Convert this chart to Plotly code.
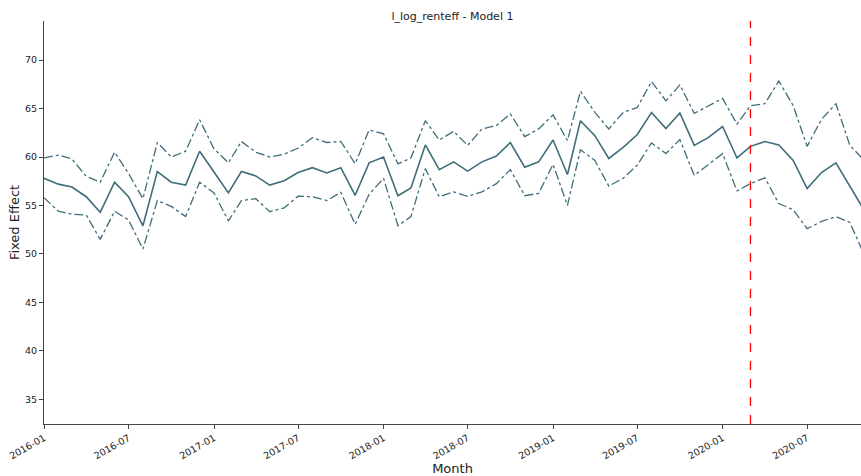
import plotly.graph_objects as go

months = [f"{2016 + (i // 12)}-{(i % 12) + 1:02d}-01" for i in range(59)]

effect = [57.8, 57.2, 56.9, 55.9, 54.3, 57.4, 55.9, 52.9, 58.5, 57.4,
          57.1, 60.6, 58.45, 56.3, 58.5, 58.05, 57.1, 57.55, 58.4, 58.9,
          58.35, 58.9, 56.05, 59.4, 60.0, 56.0, 56.8, 61.25, 58.7, 59.5,
          58.55, 59.5, 60.1, 61.5, 58.95, 59.5, 61.75, 58.2, 63.75, 62.2,
          59.85, 61.0, 62.3, 64.6, 62.95, 64.55, 61.2, 62.0, 63.15, 59.9,
          61.1, 61.6, 61.25, 59.65, 56.75, 58.4, 59.4, 57.0, 54.5]

upper = [59.9, 60.2, 59.8, 58.0, 57.4, 60.5, 58.3, 55.7, 61.5, 60.0,
         60.6, 63.85, 60.85, 59.4, 61.6, 60.5, 60.0, 60.3, 60.9, 62.0,
         61.5, 61.6, 59.3, 62.8, 62.4, 59.3, 59.9, 63.75, 61.75, 62.65,
         61.2, 62.9, 63.25, 64.45, 62.1, 62.9, 64.35, 61.7, 66.8, 64.6,
         62.9, 64.6, 65.1, 67.8, 65.8, 67.45, 64.5, 65.25, 66.05, 63.4,
         65.3, 65.5, 67.85, 65.3, 61.1, 63.9, 65.5, 61.2, 59.65]

lower = [55.8, 54.4, 54.1, 54.0, 51.5, 54.4, 53.5, 50.5, 55.5, 54.9,
         53.85, 57.4, 56.3, 53.4, 55.5, 55.7, 54.35, 54.75, 55.95, 55.9,
         55.5, 56.35, 53.05, 56.15, 57.8, 52.9, 53.85, 58.8, 55.9, 56.4,
         55.95, 56.4, 57.25, 58.7, 56.0, 56.25, 59.25, 55.0, 60.75, 59.65,
         57.0, 57.8, 59.15, 61.45, 60.35, 61.8, 58.1, 59.2, 60.35, 56.5,
         57.25, 57.85, 55.2, 54.55, 52.6, 53.35, 53.85, 53.25, 49.9]

event_date = "2020-03-01"

x_tick_vals = ["2016-01-01", "2016-07-01", "2017-01-01", "2017-07-01", "2018-01-01",
               "2018-07-01", "2019-01-01", "2019-07-01", "2020-01-01", "2020-07-01"]
x_tick_text = ["2016-01", "2016-07", "2017-01", "2017-07", "2018-01",
               "2018-07", "2019-01", "2019-07", "2020-01", "2020-07"]
y_tick_vals = [35, 40, 45, 50, 55, 60, 65, 70]

LINE = "#3f6d7a"
FONT = "DejaVu Sans"

fig = go.Figure()
fig.add_trace(go.Scatter(x=months, y=upper, mode="lines",
                         line=dict(color=LINE, width=1.3, dash="dashdot"), showlegend=False))
fig.add_trace(go.Scatter(x=months, y=lower, mode="lines",
                         line=dict(color=LINE, width=1.3, dash="dashdot"), showlegend=False))
fig.add_trace(go.Scatter(x=months, y=effect, mode="lines",
                         line=dict(color=LINE, width=1.6), showlegend=False))

fig.add_shape(type="line", x0=event_date, x1=event_date, y0=0, y1=1,
              xref="x", yref="paper", line=dict(color="red", width=1.3, dash="dash"))

fig.update_layout(
    width=861, height=476,
    margin=dict(l=44, r=0, t=21, b=49),
    paper_bgcolor="white", plot_bgcolor="white",
    font=dict(family=FONT, color="#222"),
    title=dict(text="l_log_renteff - Model 1", x=0.5255, xanchor="center",
               y=0.975, yanchor="top", font=dict(size=11, family=FONT, color="#222")),
    xaxis=dict(type="date", range=["2016-01-01", "2020-10-25"],
               tickvals=x_tick_vals, ticktext=x_tick_text, tickangle=-30,
               tickfont=dict(size=9.5, family=FONT, color="#222"),
               ticks="outside", ticklen=4, tickcolor="#444",
               showline=True, linecolor="#444", linewidth=1,
               showgrid=False, zeroline=False,
               title=dict(text="Month", font=dict(size=13, family=FONT, color="#222"), standoff=6)),
    yaxis=dict(range=[32.44, 74.04], tickvals=y_tick_vals,
               tickfont=dict(size=9.5, family=FONT, color="#222"),
               ticks="outside", ticklen=4, tickcolor="#444",
               showline=True, linecolor="#444", linewidth=1,
               showgrid=False, zeroline=False,
               title=dict(text="Fixed Effect", font=dict(size=13, family=FONT, color="#222"), standoff=2)),
)

fig.write_html("out.html")
